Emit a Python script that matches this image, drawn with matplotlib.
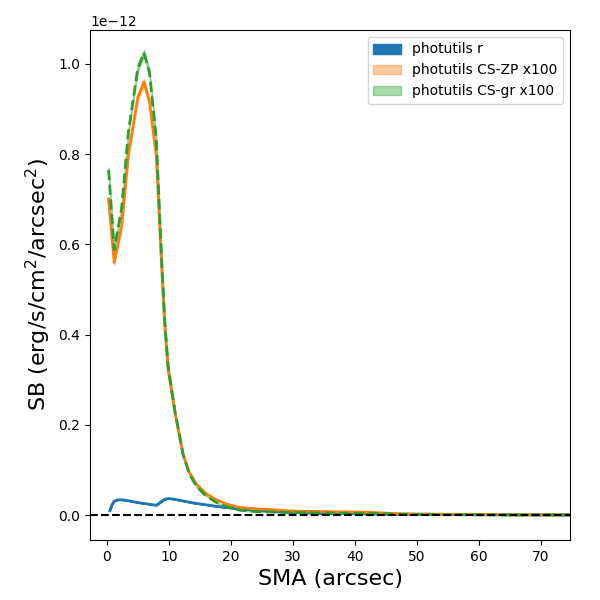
import numpy as np
import matplotlib.pyplot as plt

# SMA (arcsec) and surface brightness (units of 1e-12 erg/s/cm^2/arcsec^2)
sma_r = np.array([0.5, 0.8, 1.2, 1.8, 2.5, 3.5, 5.0, 6.5, 8.0, 8.5, 9.3, 10.0, 11.0,
                  12.5, 14.0, 16.0, 18.0, 20.0, 23.0, 26.0, 30.0, 35.0, 40.0, 50.0,
                  60.0, 75.0])
sb_r = np.array([0.010, 0.022, 0.031, 0.034, 0.034, 0.032, 0.028, 0.025, 0.022, 0.027,
                 0.035, 0.037, 0.035, 0.031, 0.027, 0.023, 0.019, 0.016, 0.012, 0.009,
                 0.006, 0.004, 0.003, 0.002, 0.001, 0.0005])

sma_cs = np.array([0.3, 1.2, 2.4, 3.5, 5.0, 6.0, 6.9, 8.0, 8.8, 9.35, 9.9, 11.0, 12.3,
                   13.3, 14.5, 16.0, 17.7, 19.5, 21.5, 24.0, 27.0, 30.0, 35.0, 40.0,
                   43.0, 47.0, 55.0, 65.0, 75.0])
sb_zp = np.array([0.70, 0.56, 0.64, 0.80, 0.925, 0.96, 0.915, 0.795, 0.566, 0.42, 0.323,
                  0.227, 0.135, 0.095, 0.068, 0.048, 0.034, 0.024, 0.017, 0.014, 0.012,
                  0.009, 0.008, 0.007, 0.006, 0.003, 0.002, 0.001, 0.001])
sb_gr = np.array([0.765, 0.588, 0.68, 0.85, 0.99, 1.024, 0.98, 0.83, 0.58, 0.43, 0.33,
                  0.23, 0.135, 0.092, 0.063, 0.043, 0.028, 0.018, 0.011, 0.008, 0.007,
                  0.006, 0.005, 0.004, 0.004, 0.002, 0.001, 0.0005, 0.0005])

scale = 1e-12
err = 0.007

fig, ax = plt.subplots(figsize=(6, 6), dpi=100)
fig.subplots_adjust(left=0.15, right=0.95, bottom=0.1, top=0.95)

ax.fill_between(sma_r, (sb_r - err * sb_r) * scale, (sb_r + err * sb_r) * scale,
                color='C0', label='photutils r')
ax.fill_between(sma_cs, (sb_zp * (1 - err)) * scale, (sb_zp * (1 + err)) * scale,
                color='C1', alpha=0.4, label='photutils CS-ZP x100')
ax.fill_between(sma_cs, (sb_gr * (1 - err)) * scale, (sb_gr * (1 + err)) * scale,
                color='C2', alpha=0.4, label='photutils CS-gr x100')

ax.plot(sma_r, sb_r * scale, color='C0', lw=2)
ax.plot(sma_cs, sb_zp * scale, color='C1', lw=2)
ax.plot(sma_cs, sb_gr * scale, color='C2', lw=2, ls='--')
ax.axhline(0, color='k', ls='--', lw=1.5)

ax.set_xlim(-2.7, 74.7)
ax.set_ylim(-0.055e-12, 1.075e-12)
ax.set_xlabel('SMA (arcsec)', fontsize=16)
ax.set_ylabel('SB (erg/s/cm$^2$/arcsec$^2$)', fontsize=16)
ax.legend(loc='upper right')

fig.savefig('out.png')
